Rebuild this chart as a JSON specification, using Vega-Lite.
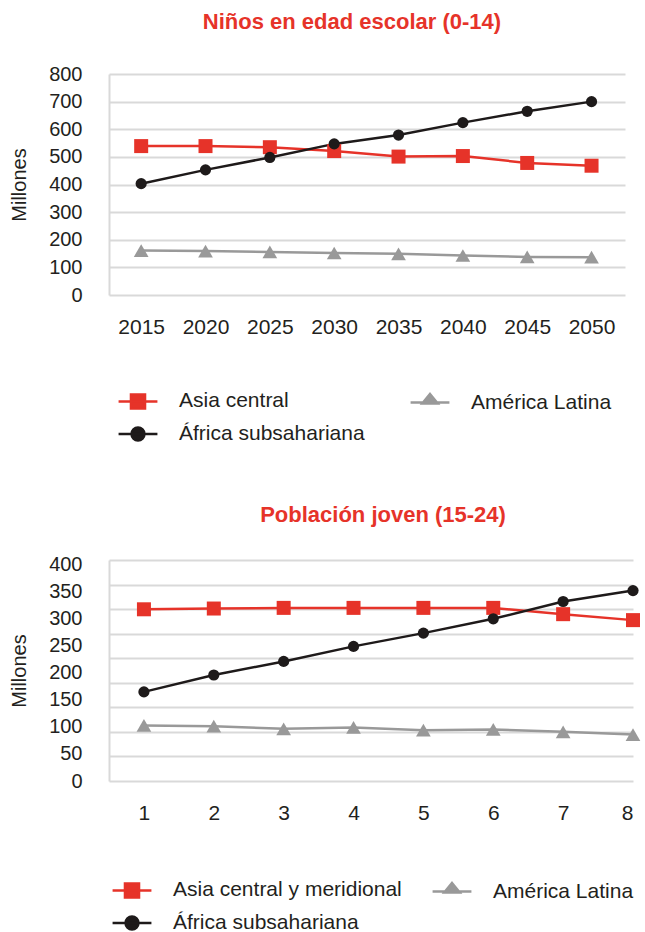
{
  "$schema": "https://vega.github.io/schema/vega-lite/v6.json",
  "padding": {"left": 9, "top": 10, "right": 0, "bottom": 0},
  "config": {
    "font": "Liberation Sans",
    "view": {"stroke": null},
    "axis": {"labelColor": "#231f20", "titleColor": "#231f20", "labelFont": "Liberation Sans", "titleFont": "Liberation Sans"},
    "legend": {"labelColor": "#231f20", "labelFont": "Liberation Sans"}
  },
  "datasets": {
    "ninos": [
      {"anio": 2015, "serie": "Asia central", "valor": 539},
      {"anio": 2020, "serie": "Asia central", "valor": 539},
      {"anio": 2025, "serie": "Asia central", "valor": 535},
      {"anio": 2030, "serie": "Asia central", "valor": 521},
      {"anio": 2035, "serie": "Asia central", "valor": 501},
      {"anio": 2040, "serie": "Asia central", "valor": 503},
      {"anio": 2045, "serie": "Asia central", "valor": 478},
      {"anio": 2050, "serie": "Asia central", "valor": 468},
      {"anio": 2015, "serie": "África subsahariana", "valor": 403},
      {"anio": 2020, "serie": "África subsahariana", "valor": 453},
      {"anio": 2025, "serie": "África subsahariana", "valor": 498},
      {"anio": 2030, "serie": "África subsahariana", "valor": 547},
      {"anio": 2035, "serie": "África subsahariana", "valor": 579},
      {"anio": 2040, "serie": "África subsahariana", "valor": 624},
      {"anio": 2045, "serie": "África subsahariana", "valor": 665},
      {"anio": 2050, "serie": "África subsahariana", "valor": 700},
      {"anio": 2015, "serie": "América Latina", "valor": 161},
      {"anio": 2020, "serie": "América Latina", "valor": 159},
      {"anio": 2025, "serie": "América Latina", "valor": 156},
      {"anio": 2030, "serie": "América Latina", "valor": 152},
      {"anio": 2035, "serie": "América Latina", "valor": 149},
      {"anio": 2040, "serie": "América Latina", "valor": 143},
      {"anio": 2045, "serie": "América Latina", "valor": 138},
      {"anio": 2050, "serie": "América Latina", "valor": 137}
    ],
    "jovenes": [
      {"periodo": 1, "serie": "Asia central y meridional", "valor": 317},
      {"periodo": 2, "serie": "Asia central y meridional", "valor": 318.4},
      {"periodo": 3, "serie": "Asia central y meridional", "valor": 319.6},
      {"periodo": 4, "serie": "Asia central y meridional", "valor": 319.6},
      {"periodo": 5, "serie": "Asia central y meridional", "valor": 319.6},
      {"periodo": 6, "serie": "Asia central y meridional", "valor": 319.6},
      {"periodo": 7, "serie": "Asia central y meridional", "valor": 308},
      {"periodo": 8, "serie": "Asia central y meridional", "valor": 297},
      {"periodo": 1, "serie": "África subsahariana", "valor": 164.5},
      {"periodo": 2, "serie": "África subsahariana", "valor": 195.7},
      {"periodo": 3, "serie": "África subsahariana", "valor": 220.8},
      {"periodo": 4, "serie": "África subsahariana", "valor": 248.5},
      {"periodo": 5, "serie": "África subsahariana", "valor": 273},
      {"periodo": 6, "serie": "África subsahariana", "valor": 299.4},
      {"periodo": 7, "serie": "África subsahariana", "valor": 331.4},
      {"periodo": 8, "serie": "África subsahariana", "valor": 351.5},
      {"periodo": 1, "serie": "América Latina", "valor": 102.5},
      {"periodo": 2, "serie": "América Latina", "valor": 101.2},
      {"periodo": 3, "serie": "América Latina", "valor": 96.3},
      {"periodo": 4, "serie": "América Latina", "valor": 98.8},
      {"periodo": 5, "serie": "América Latina", "valor": 93.9},
      {"periodo": 6, "serie": "América Latina", "valor": 95.1},
      {"periodo": 7, "serie": "América Latina", "valor": 90.8},
      {"periodo": 8, "serie": "América Latina", "valor": 85.8}
    ]
  },
  "spacing": 58,
  "resolve": {"scale": {"color": "independent"}, "legend": {"color": "independent"}},
  "vconcat": [
    {
      "width": 516,
      "height": 221,
      "title": {"text": "Niños en edad escolar (0-14)", "fontSize": 22, "fontWeight": "bold", "color": "#e63329", "anchor": "middle", "dx": -15, "offset": 13.5, "baseline": "alphabetic"},
      "data": {"name": "ninos"},
      "encoding": {
        "x": {"field": "anio", "type": "quantitative", "scale": {"domain": [2012.5, 2052.6], "nice": false, "zero": false},
          "axis": {"values": [2015, 2020, 2025, 2030, 2035, 2040, 2045, 2050], "format": "d", "title": null, "grid": false, "ticks": false, "domain": false, "labelFontSize": 21, "labelPadding": 21}},
        "y": {"field": "valor", "type": "quantitative", "scale": {"domain": [0, 800], "nice": false},
          "axis": {"values": [0, 100, 200, 300, 400, 500, 600, 700, 800], "title": "Millones", "titleFontSize": 20, "titleFontWeight": "normal", "titlePadding": 18, "labelFontSize": 20, "labelPadding": 27, "ticks": false, "grid": true, "gridColor": "#d9d9d9", "gridWidth": 2, "domain": true, "domainColor": "#d9d9d9", "domainWidth": 2, "minExtent": 62, "maxExtent": 62}}
      },
      "layer": [
        {"mark": {"type": "line", "strokeWidth": 2.5},
          "encoding": {
            "color": {"field": "serie", "type": "nominal",
              "scale": {"domain": ["Asia central", "América Latina", "África subsahariana"], "range": ["#e63329", "#999999", "#1e1a1a"]},
              "legend": {"orient": "none", "direction": "horizontal", "legendX": 9, "legendY": 307, "columns": 2, "columnPadding": 40, "rowPadding": -9, "padding": 0,
                "title": null, "symbolSize": 1369, "symbolStrokeWidth": 2.5, "labelOffset": 21, "labelFontSize": 21, "labelLimit": 400,
                "encode": {"symbols": {"update": {
                  "shape": {"signal": "datum.value === 'Asia central' ? 'M-1.05,0H1.05M-0.38,-0.38H0.38V0.38H-0.38Z' : (datum.value === 'América Latina' ? 'M-1.05,0H1.05M0,-0.46L0.42,0.06H-0.42Z' : 'M-1.05,0H1.05M0.35,0A0.35,0.35 0 1,1 -0.35,0A0.35,0.35 0 1,1 0.35,0Z')"},
                  "fill": {"signal": "datum.value === 'Asia central' ? '#e63329' : (datum.value === 'América Latina' ? '#999999' : '#1e1a1a')"},
                  "stroke": {"signal": "datum.value === 'Asia central' ? '#e63329' : (datum.value === 'América Latina' ? '#999999' : '#1e1a1a')"},
                  "opacity": {"value": 1}
                }}}}}
          }},
        {"transform": [{"filter": "datum.serie === 'Asia central'"}],
          "mark": {"type": "point", "filled": true, "opacity": 1, "shape": "square", "size": 196, "color": "#e63329"}},
        {"transform": [{"filter": "datum.serie === 'América Latina'"}],
          "mark": {"type": "point", "filled": true, "opacity": 1, "shape": "triangle-up", "size": 216, "color": "#999999"}},
        {"transform": [{"filter": "datum.serie === 'África subsahariana'"}],
          "mark": {"type": "point", "filled": true, "opacity": 1, "shape": "circle", "size": 125, "color": "#1e1a1a"}}
      ]
    },
    {
      "width": 524,
      "height": 221,
      "title": {"text": "Población joven (15-24)", "fontSize": 22, "fontWeight": "bold", "color": "#e63329", "anchor": "middle", "dx": 12, "offset": 10, "baseline": "alphabetic"},
      "data": {"name": "jovenes"},
      "encoding": {
        "x": {"field": "periodo", "type": "quantitative", "scale": {"domain": [0.5, 8], "nice": false, "zero": false},
          "axis": {"values": [1, 2, 3, 4, 5, 6, 7, 8], "format": "d", "title": null, "grid": false, "ticks": false, "domain": false, "labelFontSize": 21, "labelPadding": 21}}
      },
      "layer": [
        {"mark": {"type": "line", "strokeWidth": 2.5},
          "encoding": {
            "y": {"field": "valor", "type": "quantitative", "scale": {"domain": [0, 408], "nice": false},
              "axis": {"orient": "left", "values": [0, 50, 100, 150, 200, 250, 300, 350, 400], "title": "Millones", "titleFontSize": 20, "titleFontWeight": "normal", "titlePadding": 18, "labelFontSize": 20, "labelPadding": 27, "ticks": false, "grid": false, "domain": true, "domainColor": "#d9d9d9", "domainWidth": 2, "minExtent": 62, "maxExtent": 62}},
            "color": {"field": "serie", "type": "nominal",
              "scale": {"domain": ["Asia central y meridional", "América Latina", "África subsahariana"], "range": ["#e63329", "#999999", "#1e1a1a"]},
              "legend": {"orient": "none", "direction": "horizontal", "legendX": 3, "legendY": 310, "columns": 2, "columnPadding": 25, "rowPadding": -9, "padding": 0,
                "title": null, "symbolSize": 1369, "symbolStrokeWidth": 2.5, "labelOffset": 21, "labelFontSize": 21, "labelLimit": 400,
                "encode": {"symbols": {"update": {
                  "shape": {"signal": "datum.value === 'Asia central y meridional' ? 'M-1.05,0H1.05M-0.38,-0.38H0.38V0.38H-0.38Z' : (datum.value === 'América Latina' ? 'M-1.05,0H1.05M0,-0.46L0.42,0.06H-0.42Z' : 'M-1.05,0H1.05M0.35,0A0.35,0.35 0 1,1 -0.35,0A0.35,0.35 0 1,1 0.35,0Z')"},
                  "fill": {"signal": "datum.value === 'Asia central y meridional' ? '#e63329' : (datum.value === 'América Latina' ? '#999999' : '#1e1a1a')"},
                  "stroke": {"signal": "datum.value === 'Asia central y meridional' ? '#e63329' : (datum.value === 'América Latina' ? '#999999' : '#1e1a1a')"},
                  "opacity": {"value": 1}
                }}}}}
          }},
        {"transform": [{"filter": "datum.serie === 'Asia central y meridional'"}],
          "mark": {"type": "point", "filled": true, "opacity": 1, "shape": "square", "size": 196, "color": "#e63329"},
          "encoding": {
            "y": {"field": "valor", "type": "quantitative", "scale": {"domain": [0, 408], "nice": false},
              "axis": {"orient": "left", "values": [0, 45.333, 90.667, 136, 181.333, 226.667, 272, 317.333, 362.667, 408], "title": null, "labels": false, "ticks": false, "domain": false, "grid": true, "gridColor": "#d9d9d9", "gridWidth": 2, "minExtent": 0, "maxExtent": 0}}
          }},
        {"transform": [{"filter": "datum.serie === 'América Latina'"}],
          "mark": {"type": "point", "filled": true, "opacity": 1, "shape": "triangle-up", "size": 216, "color": "#999999"},
          "encoding": {"y": {"field": "valor", "type": "quantitative", "scale": {"domain": [0, 408], "nice": false}, "axis": null}}},
        {"transform": [{"filter": "datum.serie === 'África subsahariana'"}],
          "mark": {"type": "point", "filled": true, "opacity": 1, "shape": "circle", "size": 125, "color": "#1e1a1a"},
          "encoding": {"y": {"field": "valor", "type": "quantitative", "scale": {"domain": [0, 408], "nice": false}, "axis": null}}}
      ],
      "resolve": {"axis": {"y": "independent"}}
    }
  ]
}
